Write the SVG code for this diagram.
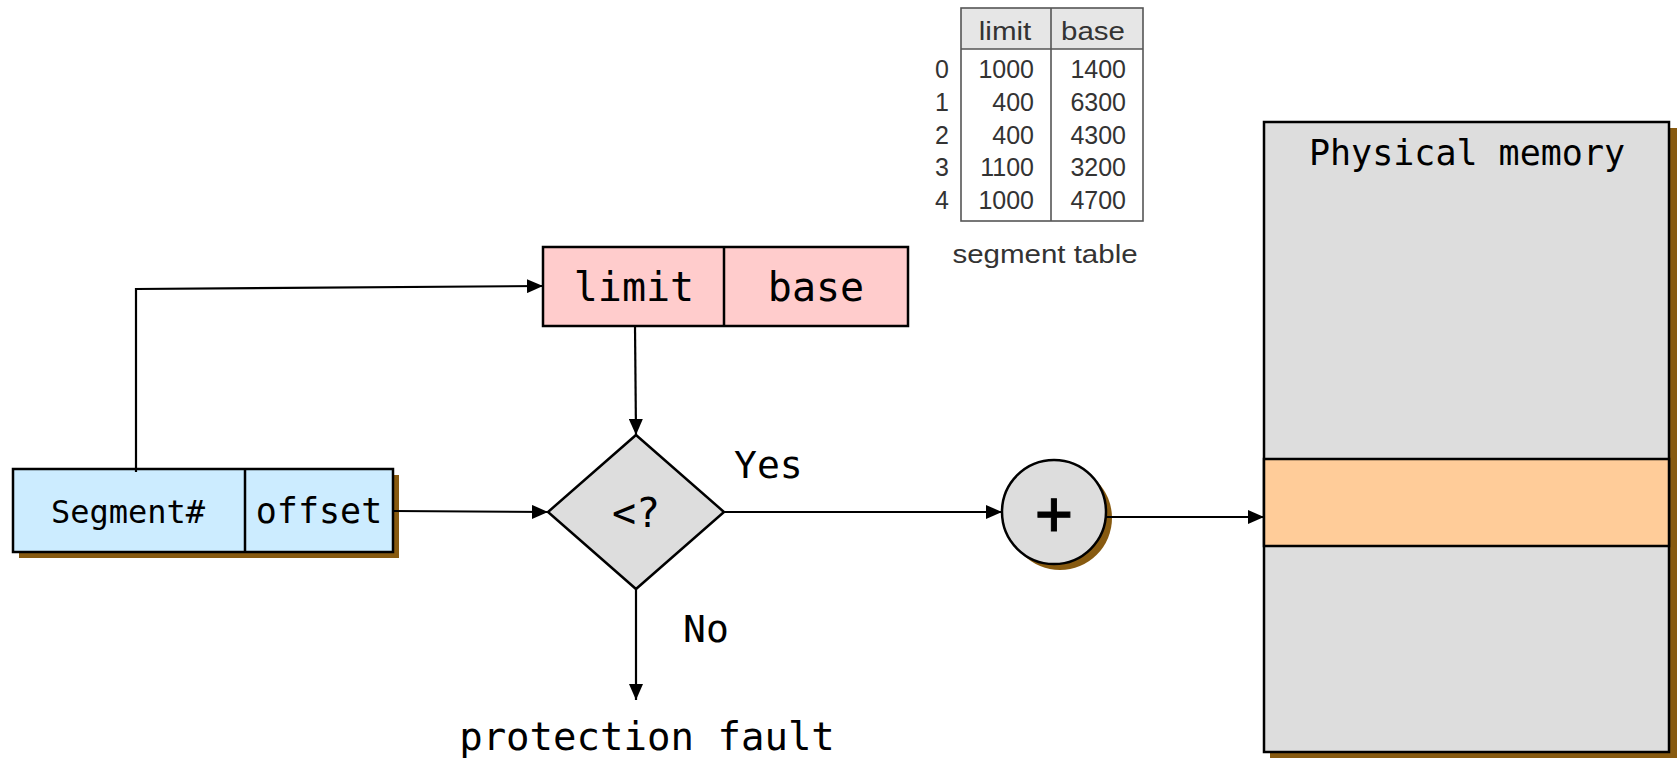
<svg xmlns="http://www.w3.org/2000/svg" width="1678" height="758" viewBox="0 0 1678 758">
<defs>
<marker id="arr" viewBox="0 0 16 14" refX="16" refY="7" markerWidth="16" markerHeight="14" markerUnits="userSpaceOnUse" orient="auto">
<path d="M0,0 L16,7 L0,14 Z" fill="#000"/>
</marker>
<style>
.box{stroke:#000;stroke-width:2.5}
.shadow{fill:#875A10}
.mono{font-family:"DejaVu Sans Mono","Liberation Mono",monospace;fill:#000}
.conn{fill:none;stroke:#000;stroke-width:2.2;marker-end:url(#arr)}
.tbl{font-family:"Liberation Sans",Arial,sans-serif;font-size:25px;fill:#333}
.tl{stroke:#555;stroke-width:1.6;fill:none}
</style>
</defs>
<rect width="1678" height="758" fill="#fff"/>

<g id="segment-table">
<rect x="961" y="8" width="182" height="41" fill="#E6E6E6"/>
<rect x="961" y="8" width="182" height="213" class="tl"/>
<line x1="961" y1="49" x2="1143" y2="49" class="tl"/>
<line x1="1051" y1="8" x2="1051" y2="221" class="tl"/>
<text class="tbl" transform="translate(1005,40) scale(1.18,1)" text-anchor="middle">limit</text>
<text class="tbl" transform="translate(1093,40) scale(1.18,1)" text-anchor="middle">base</text>
<g text-anchor="middle">
<text class="tbl" x="942" y="78">0</text>
<text class="tbl" x="942" y="111">1</text>
<text class="tbl" x="942" y="144">2</text>
<text class="tbl" x="942" y="176">3</text>
<text class="tbl" x="942" y="209">4</text>
</g>
<g text-anchor="end">
<text class="tbl" x="1034" y="78">1000</text>
<text class="tbl" x="1034" y="111">400</text>
<text class="tbl" x="1034" y="144">400</text>
<text class="tbl" x="1034" y="176">1100</text>
<text class="tbl" x="1034" y="209">1000</text>
<text class="tbl" x="1126" y="78">1400</text>
<text class="tbl" x="1126" y="111">6300</text>
<text class="tbl" x="1126" y="144">4300</text>
<text class="tbl" x="1126" y="176">3200</text>
<text class="tbl" x="1126" y="209">4700</text>
</g>
<text class="tbl" transform="translate(1045,263) scale(1.18,1)" text-anchor="middle">segment table</text>
</g>

<g id="logical-address">
<rect class="shadow" x="19" y="475" width="380" height="83"/>
<rect class="box" x="13" y="469" width="380" height="83" fill="#CCECFF"/>
<line class="box" x1="245" y1="469" x2="245" y2="552"/>
<text class="mono" x="128" y="523" font-size="32" text-anchor="middle">Segment#</text>
<text class="mono" x="319" y="523" font-size="35" text-anchor="middle">offset</text>
</g>

<g id="segment-entry">
<rect class="box" x="543" y="247" width="365" height="79" fill="#FFCCCC"/>
<line class="box" x1="724" y1="247" x2="724" y2="326"/>
<text class="mono" x="634" y="301" font-size="40" text-anchor="middle">limit</text>
<text class="mono" x="816" y="301" font-size="40" text-anchor="middle">base</text>
</g>

<g id="compare">
<polygon class="box" points="636,435 724,512 636,589 548,512" fill="#DDDDDD"/>
<text class="mono" x="636" y="527" font-size="40" text-anchor="middle">&lt;?</text>
</g>

<g id="adder">
<circle class="shadow" cx="1060" cy="518" r="52"/>
<circle class="box" cx="1054" cy="512" r="52" fill="#DDDDDD"/>
<text class="mono" x="1054" y="534" font-size="62" text-anchor="middle" stroke="#000" stroke-width="1">+</text>
</g>

<g id="physical-memory">
<rect class="shadow" x="1270" y="128" width="407" height="630"/>
<rect class="box" x="1264" y="122" width="405" height="630" fill="#DDDDDD"/>
<rect class="box" x="1264" y="459" width="405" height="87" fill="#FFCC99"/>
<text class="mono" x="1467" y="165" font-size="35" text-anchor="middle">Physical memory</text>
</g>

<g id="labels">
<text class="mono" x="734" y="478" font-size="38">Yes</text>
<text class="mono" x="683" y="642" font-size="38">No</text>
<text class="mono" x="647" y="750" font-size="39" text-anchor="middle">protection fault</text>
</g>

<g id="connectors">
<path class="conn" d="M136,472 L136,289 L543,286"/>
<path class="conn" d="M635,326 L636,435"/>
<path class="conn" d="M393,511 L548,512"/>
<path class="conn" d="M724,512 L1002,512"/>
<path class="conn" d="M1106,517 L1264,517"/>
<path class="conn" d="M636,589 L636,700"/>
</g>
</svg>
